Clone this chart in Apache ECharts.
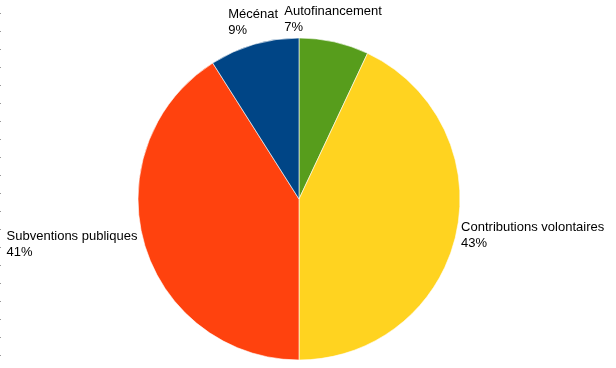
<!DOCTYPE html>
<html><head><meta charset="utf-8">
<script src="https://cdn.jsdelivr.net/npm/echarts@6/dist/echarts.min.js"></script>
<style>html,body{margin:0;padding:0;background:#fff}#c{width:616px;height:368px}</style>
</head><body><div id="c"></div>
<script>
const categories = ['Autofinancement', 'Contributions volontaires', 'Subventions publiques', 'Mécénat'];
const values = [7, 43, 41, 9];
const colors = ['#579D1C', '#FFD320', '#FF420E', '#004586'];

const CX = 299, CY = 199, R = 161;
const total = values.reduce((a, b) => a + b, 0);
const mids = [];
let acc = 0;
values.forEach(v => { mids.push((acc + v / 2) / total * 2 * Math.PI); acc += v; });

const chart = echarts.init(document.getElementById('c'), null, {renderer: 'canvas'});
const dots = [];
for (let y = 13; y < 368; y += 18) {
  dots.push({type: 'rect', shape: {x: 0, y: y, width: 1, height: 1}, style: {fill: '#999'}, silent: true});
}
chart.setOption({
  animation: false,
  backgroundColor: '#fff',
  graphic: dots,
  series: [{
    type: 'pie',
    center: [CX, CY],
    radius: R,
    startAngle: 90,
    clockwise: true,
    data: categories.map((c, i) => ({name: c, value: values[i], itemStyle: {color: colors[i]}})),
    itemStyle: {borderColor: '#fff', borderWidth: 0.6},
    label: {
      show: true,
      position: 'inside',
      overflow: 'none',
      formatter: p => p.name + '\n' + Math.round(p.percent) + '%',
      fontFamily: 'Liberation Sans, Arial, sans-serif',
      fontSize: 13,
      lineHeight: 16,
      color: '#000',
      align: 'left'
    },
    labelLine: {show: false},
    labelLayout: function (p) {
      const a = mids[p.dataIndex];
      const s = Math.sin(a), c = Math.cos(a);
      const px = CX + R * s, py = CY - R * c;
      const w = p.labelRect.width;
      if (Math.abs(c) > 0.8) {
        return {x: px - w / 2 - 1, y: py + (c > 0 ? -6 : 6), align: 'left', verticalAlign: c > 0 ? 'bottom' : 'top'};
      }
      return {x: s > 0 ? px + 5 : px - 7 - w, y: py + 1, align: 'left', verticalAlign: 'middle'};
    }
  }]
});
</script></body></html>
